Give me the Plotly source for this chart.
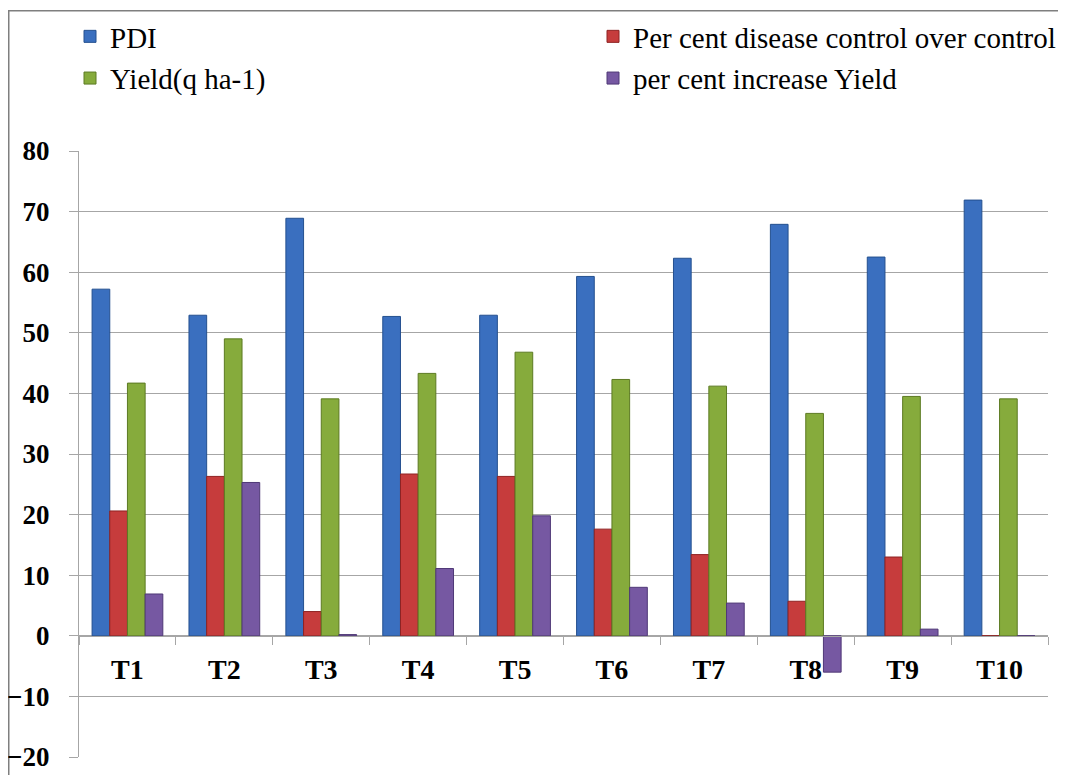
import plotly.graph_objects as go

categories = ["T1", "T2", "T3", "T4", "T5", "T6", "T7", "T8", "T9", "T10"]
pdi = [57.2, 52.9, 68.9, 52.7, 52.9, 59.3, 62.3, 67.9, 62.5, 71.9]
disease_control = [20.6, 26.3, 4.0, 26.7, 26.3, 17.6, 13.4, 5.7, 13.0, 0.0]
yield_q = [41.7, 49.0, 39.1, 43.3, 46.8, 42.3, 41.2, 36.7, 39.5, 39.1]
yield_increase = [6.9, 25.3, 0.2, 11.1, 19.8, 8.0, 5.4, -6.0, 1.1, 0.0]
y_ticks = [-20, -10, 0, 10, 20, 30, 40, 50, 60, 70, 80]

# the page body adds an 8px margin, so the figure is laid out 8px smaller/shifted
OFF = 8
W, H = 1066 - OFF, 775 - OFF
L, T = 79 - OFF, 151 - OFF
R = W - (1048 - OFF)
B = H - (757 - OFF)
pw, ph = W - L - R, H - T - B


def px_x(x):  # page pixel -> paper x
    return (x - OFF - L) / pw


def px_y(y):  # page pixel -> paper y
    return 1 - (y - OFF - T) / ph


series = [
    ("PDI", pdi, "#3a6fbf", "#24508f", "legend"),
    ("Per cent disease control over control", disease_control, "#c63c3c", "#8e2222", "legend2"),
    ("Yield(q ha-1)", yield_q, "#86ab3c", "#5c7a22", "legend"),
    ("per cent increase Yield", yield_increase, "#7658a2", "#4f3876", "legend2"),
]

fig = go.Figure()
for name, vals, col, edge, lg in series:
    fig.add_trace(go.Bar(
        x=categories, y=vals, name=name,
        marker=dict(color=col, line=dict(color=edge, width=1)),
        legend=lg, legendgroup=name,
    ))

font_serif = "Liberation Serif"
legend_common = dict(
    orientation="v", yanchor="top", xanchor="left",
    font=dict(family=font_serif, size=29, color="#000000"),
    bgcolor="rgba(0,0,0,0)", traceorder="grouped", tracegroupgap=1,
    itemwidth=30,
)

zero_frac = (0 - (-20)) / 100.0

fig.update_layout(
    width=W, height=H,
    font=dict(family=font_serif, color="#000000"),
    margin=dict(l=L, r=R, t=T, b=B, autoexpand=False),
    paper_bgcolor="white", plot_bgcolor="white",
    barmode="group", bargap=0.27, bargroupgap=0,
    legend=dict(x=px_x(70), y=px_y(11), **legend_common),
    legend2=dict(x=px_x(593), y=px_y(11), **legend_common),
    xaxis=dict(
        type="category", anchor="free", position=zero_frac,
        showline=True, linecolor="#a6a6a6", linewidth=1.2,
        ticks="outside", tickson="boundaries", ticklen=8, tickcolor="#a6a6a6",
        tickfont=dict(family=font_serif, size=28, color="#000000", weight="bold"),
        ticklabelstandoff=8,
        showgrid=False,
    ),
    yaxis=dict(
        range=[-20, 80], tickvals=y_ticks,
        showline=True, linecolor="#a6a6a6", linewidth=1.2,
        showgrid=True, gridcolor="#a6a6a6", gridwidth=1.2,
        zeroline=False,
        ticks="outside", ticklen=9, tickcolor="#a6a6a6",
        tickfont=dict(family=font_serif, size=27, color="#000000", weight="bold"),
        ticklabelstandoff=14,
    ),
    showlegend=True,
)

# outer chart frame
fig.add_shape(
    type="rect", xref="paper", yref="paper",
    x0=px_x(8.75), x1=px_x(1085),
    y0=px_y(800), y1=px_y(10.75),
    line=dict(color="#7f7f7f", width=1.5), fillcolor="rgba(0,0,0,0)",
    layer="below",
)

fig.write_html("out.html")
